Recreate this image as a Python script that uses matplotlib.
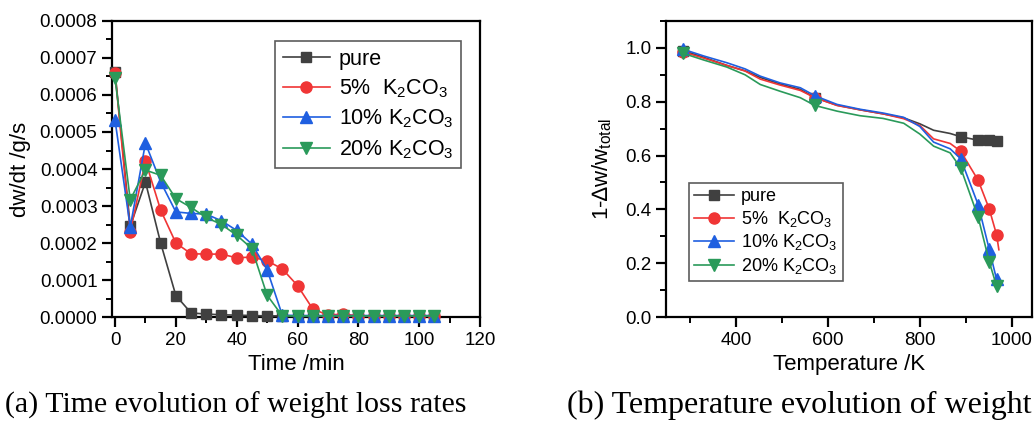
import matplotlib
matplotlib.use("Agg")
import matplotlib.pyplot as plt
from matplotlib.ticker import MultipleLocator, FormatStrFormatter

plt.rcParams['font.family'] = ['Liberation Sans', 'DejaVu Sans']
plt.rcParams['mathtext.fontset'] = 'custom'
plt.rcParams['mathtext.rm'] = 'Liberation Sans'
plt.rcParams['mathtext.it'] = 'Liberation Sans'

# ---------------- data: (a) weight loss rate vs time ----------------
time_min = [0, 5, 10, 15, 20, 25, 30, 35, 40, 45, 50, 55, 60, 65, 70, 75, 80, 85, 90, 95, 100, 105]
rate_pure = [0.000663, 0.000245, 0.000365, 0.000200, 0.000058, 0.000011, 0.000008, 0.000006,
             0.000005, 0.000004, 0.000003, 0.000003, 0.000003, 0.000003, 0.000003, 0.000003,
             0.000003, 0.000003, 0.000003, 0.000003, 0.000003, 0.000003]
rate_5 = [0.000660, 0.000230, 0.000422, 0.000289, 0.000200, 0.000171, 0.000170, 0.000170,
          0.000160, 0.000162, 0.000152, 0.000130, 0.000085, 0.000022, 0.000005, 0.000008,
          0.000003, 0.000003, 0.000003, 0.000003, 0.000003, 0.000003]
rate_10 = [0.000532, 0.000243, 0.000470, 0.000365, 0.000284, 0.000280, 0.000278, 0.000260,
           0.000234, 0.000197, 0.000128, 0.000005, 0.000004, 0.000004, 0.000004, 0.000004,
           0.000004, 0.000004, 0.000004, 0.000004, 0.000004, 0.000004]
rate_20 = [0.000645, 0.000317, 0.000397, 0.000383, 0.000320, 0.000296, 0.000269, 0.000250,
           0.000221, 0.000185, 0.000059, 0.000003, 0.000003, 0.000003, 0.000003, 0.000003,
           0.000003, 0.000003, 0.000003, 0.000003, 0.000003, 0.000003]

# ---------------- data: (b) remaining weight vs temperature ----------------
temp_K = [285, 330, 380, 420, 453, 496, 540, 572, 620, 670, 720, 765, 800, 830, 866, 889, 927, 951, 967]
temp_K_5 = temp_K + [972]
frac_pure = [0.990, 0.965, 0.935, 0.915, 0.890, 0.866, 0.846, 0.815, 0.787, 0.770, 0.755, 0.740,
             0.718, 0.694, 0.682, 0.670, 0.657, 0.656, 0.654]
frac_5 = [0.985, 0.962, 0.935, 0.914, 0.884, 0.862, 0.842, 0.815, 0.786, 0.770, 0.755, 0.737,
          0.712, 0.662, 0.645, 0.616, 0.508, 0.402, 0.306, 0.250]
frac_10 = [0.995, 0.970, 0.945, 0.922, 0.895, 0.870, 0.852, 0.822, 0.790, 0.772, 0.758, 0.742,
           0.708, 0.650, 0.625, 0.588, 0.417, 0.252, 0.140]
frac_20 = [0.980, 0.955, 0.929, 0.900, 0.864, 0.839, 0.815, 0.786, 0.765, 0.748, 0.738, 0.720,
           0.680, 0.635, 0.610, 0.554, 0.371, 0.206, 0.115]
marker_idx = [0, 7, 15, 16, 17, 18]

labels = ['pure', r'5%  K$_\mathregular{2}$CO$_\mathregular{3}$',
          r'10% K$_\mathregular{2}$CO$_\mathregular{3}$',
          r'20% K$_\mathregular{2}$CO$_\mathregular{3}$']
colors = ['#404040', '#f03535', '#1f5fe0', '#2a9a5a']
markers = ['s', 'o', '^', 'v']
msizes = [7, 8, 8.5, 8.5]

fig = plt.figure(figsize=(10.36, 4.25), dpi=100)
ax1 = fig.add_axes([0.1081, 0.2541, 0.3552, 0.6965])
ax2 = fig.add_axes([0.6429, 0.2541, 0.3532, 0.6965])

for ys, c, m, ms, lab in zip([rate_pure, rate_5, rate_10, rate_20], colors, markers, msizes, labels):
    ax1.plot(time_min, ys, color=c, marker=m, markersize=ms, lw=1.2, label=lab,
             markeredgecolor=c, clip_on=False, zorder=3)

xs_b = [temp_K, temp_K_5, temp_K, temp_K]
for xs, ys, c, m, ms, lab in zip(xs_b, [frac_pure, frac_5, frac_10, frac_20], colors, markers, msizes, labels):
    ax2.plot(xs, ys, color=c, marker=m, markersize=ms, lw=1.2, label=lab,
             markevery=marker_idx, markeredgecolor=c, zorder=3)

ax1.set_xlim(-1, 120)
ax1.set_ylim(0, 0.0008)
ax1.xaxis.set_major_locator(MultipleLocator(20))
ax1.xaxis.set_minor_locator(MultipleLocator(10))
ax1.yaxis.set_major_locator(MultipleLocator(0.0001))
ax1.yaxis.set_minor_locator(MultipleLocator(0.00005))
ax1.yaxis.set_major_formatter(FormatStrFormatter('%.4f'))
ax1.set_xlabel('Time /min', fontsize=16, labelpad=4)
ax1.set_ylabel('dw/dt /g/s', fontsize=16, labelpad=6)

ax2.set_xlim(248, 1044)
ax2.set_ylim(0, 1.1)
ax2.xaxis.set_major_locator(MultipleLocator(200))
ax2.xaxis.set_minor_locator(MultipleLocator(100))
ax2.yaxis.set_major_locator(MultipleLocator(0.2))
ax2.yaxis.set_minor_locator(MultipleLocator(0.1))
ax2.yaxis.set_major_formatter(FormatStrFormatter('%.1f'))
ax2.set_xlabel('Temperature /K', fontsize=16, labelpad=4)
ax2.set_ylabel('1-\u2206w/w$_\\mathregular{total}$', fontsize=16, labelpad=8)

for ax in (ax1, ax2):
    for s in ax.spines.values():
        s.set_linewidth(1.6)
    ax.tick_params(which='major', direction='out', length=7, width=1.6, labelsize=13.5,
                   top=False, right=False)
    ax.tick_params(which='minor', direction='out', length=4, width=1.4, top=False, right=False)

leg1 = ax1.legend(loc='upper right', bbox_to_anchor=(0.948, 0.932), fontsize=15.5, frameon=True,
                  fancybox=False, edgecolor='#333333', handlelength=2.2, handletextpad=0.4,
                  borderpad=0.35, labelspacing=0.36, borderaxespad=0)
leg1.get_frame().set_linewidth(1.2)
leg2 = ax2.legend(loc='lower left', bbox_to_anchor=(0.062, 0.12), fontsize=13, frameon=True,
                  fancybox=False, edgecolor='#333333', handlelength=2.2, handletextpad=0.4,
                  borderpad=0.3, labelspacing=0.2, borderaxespad=0)
leg2.get_frame().set_linewidth(1.2)

fig.text(0.228, 0.047, '(a) Time evolution of weight loss rates', fontsize=21.5,
         family='Liberation Serif', ha='center', va='center')
fig.text(0.772, 0.047, '(b) Temperature evolution of weight', fontsize=23,
         family='Liberation Serif', ha='center', va='center')

fig.savefig('out.png', dpi=100)
